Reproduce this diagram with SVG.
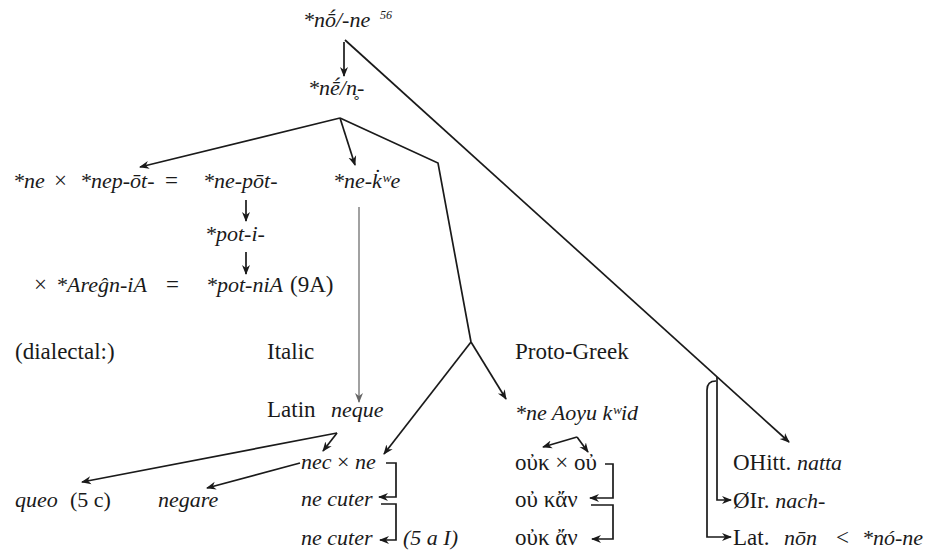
<svg xmlns="http://www.w3.org/2000/svg" width="936" height="553" viewBox="0 0 936 553">
<style>
text{font-family:"Liberation Serif","DejaVu Serif",serif;fill:#1a1a1a;font-size:23px}
.i{font-style:italic;font-size:22px}
.sup{font-size:12px;font-style:italic}
.c{fill:none;stroke:#1a1a1a;stroke-width:1.7}
.g{fill:none;stroke:#8a8a8a;stroke-width:1.6}
.a{marker-end:url(#ah)}
.ag{marker-end:url(#ahg)}
</style>
<defs>
<marker id="ah" viewBox="0 0 10 10" refX="9" refY="5" markerWidth="10" markerHeight="10" orient="auto" markerUnits="userSpaceOnUse"><path d="M0,1 L10,5 L0,9 L3,5 z" fill="#1a1a1a"/></marker>
<marker id="ahg" viewBox="0 0 10 10" refX="9" refY="5" markerWidth="10" markerHeight="10" orient="auto" markerUnits="userSpaceOnUse"><path d="M0,1 L10,5 L0,9 L3,5 z" fill="#666"/></marker>
</defs>
<rect width="936" height="553" fill="#fff"/>
<g id="connectors">
<path class="c a" d="M344,42 V76"/>
<path class="c a" d="M345,40 L789,442"/>
<path class="c a" d="M340,118 L140,167"/>
<path class="c a" d="M340,118 L355,165"/>
<path class="c" d="M340,118 L438,163 L471,342"/>
<path class="c a" d="M471,342 L384,454"/>
<path class="c a" d="M471,342 L506,399"/>
<path class="c a" d="M246,200 V221"/>
<path class="c a" d="M246,252 V274"/>
<path class="g ag" d="M359,207 V402"/>
<path class="c a" d="M337,433 L82,482"/>
<path class="c a" d="M337,433 L323,451"/>
<path class="c a" d="M300,463 L207,488"/>
<path class="c a" d="M386,463 H396 V497 H379"/>
<path class="c a" d="M381,504 H396 V540 H380"/>
<path class="c a" d="M577,437 L543,447"/>
<path class="c a" d="M577,437 L588,452"/>
<path class="c a" d="M605,464 H613 V498 H590"/>
<path class="c a" d="M591,505 H613 V539 H592"/>
<path class="c a" d="M717,377 V500 H731"/>
<path class="c a" d="M716,381 Q707,381 707,390 V537 H731"/>
</g>
<g id="n-root"><text class="i" x="303" y="27">*nṓ/-ne</text><text class="sup" x="380" y="19">56</text></g>
<g id="n-ne-n"><text class="i" x="308" y="95">*nḗ/n̥-</text></g>
<g id="n-nepot"><text class="i" x="13" y="188">*ne</text><text x="54" y="188">×</text><text class="i" x="80" y="188">*nep-ōt-</text><text x="165" y="188">=</text><text class="i" x="203" y="188">*ne-pōt-</text></g>
<g id="n-nekwe"><text class="i" x="333" y="188" font-size="23">*ne-k̇ʷe</text></g>
<g id="n-poti"><text class="i" x="205" y="241">*pot-i-</text></g>
<g id="n-potnia"><text x="34" y="292">×</text><text class="i" x="56" y="292">*Areĝn-iA</text><text x="166" y="292">=</text><text class="i" x="206" y="292">*pot-niA</text><text x="290" y="292">(9A)</text></g>
<g id="n-dialectal"><text x="15" y="359">(dialectal:)</text></g>
<g id="n-italic"><text x="267" y="359">Italic</text></g>
<g id="n-protogreek"><text x="515" y="359">Proto-Greek</text></g>
<g id="n-latin-neque"><text x="267" y="417">Latin <tspan class="i" x="331">neque</tspan></text></g>
<g id="n-ne-aoyu"><text class="i" x="515" y="420">*ne Aoyu kʷid</text></g>
<g id="n-nec-ne"><text class="i" x="301" y="469">nec <tspan font-style="normal">×</tspan> ne</text></g>
<g id="n-queo"><text class="i" x="15" y="507">queo <tspan font-style="normal" x="70">(5 c)</tspan></text></g>
<g id="n-negare"><text class="i" x="158" y="507">negare</text></g>
<g id="n-ne-cuter1"><text class="i" x="301" y="506">ne cuter</text></g>
<g id="n-ne-cuter2"><text class="i" x="301" y="545">ne cuter</text><text class="i" x="403" y="545">(5 a I)</text></g>
<g id="n-ouk-ou"><text x="515" y="470">οὐκ × οὐ</text></g>
<g id="n-ou-kan"><text x="515" y="507">οὐ κἄν</text></g>
<g id="n-ouk-an"><text x="515" y="545">οὐκ ἄν</text></g>
<g id="n-ohitt"><text x="733" y="470">OHitt. <tspan class="i">natta</tspan></text></g>
<g id="n-oir"><text x="733" y="508">ØIr. <tspan class="i">nach-</tspan></text></g>
<g id="n-lat-non"><text x="733" y="545">Lat. <tspan class="i" x="784">nōn</tspan><tspan x="836">&lt;</tspan><tspan class="i" x="862">*nó-ne</tspan></text></g>
</svg>
